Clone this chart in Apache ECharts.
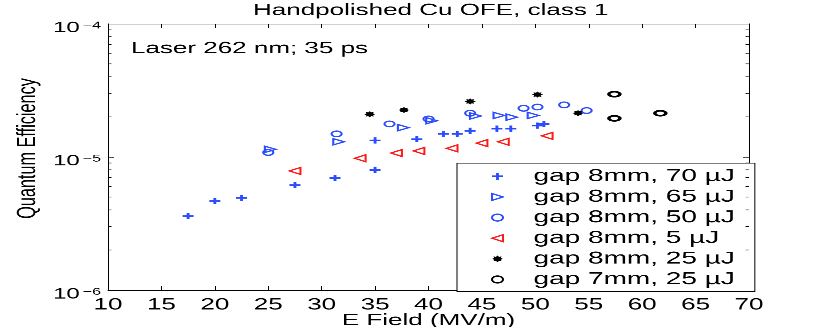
<!DOCTYPE html>
<html>
<head>
<meta charset="utf-8">
<script src="https://cdn.jsdelivr.net/npm/echarts@6/dist/echarts.min.js"></script>
<style>
  html, body { margin: 0; padding: 0; background: #fff; overflow: hidden; }
  /* the original figure is squashed vertically, so draw tall and compress */
  #chart { width: 830px; height: 523px; transform: scaleY(0.6252); transform-origin: 0 0; }
</style>
</head>
<body>
<div id="chart"></div>
<script>
// E field (MV/m) and quantum efficiency per measurement set
const field70 = [17.5, 20, 22.5, 27.5, 31.25, 35, 35, 38.9, 41.4, 42.7, 43.9, 46.4, 47.7, 50.2, 50.8];
const qe70 = [3.6e-6, 4.67e-6, 4.92e-6, 6.15e-6, 6.95e-6, 8.0e-6, 1.33e-5, 1.36e-5, 1.49e-5, 1.49e-5, 1.57e-5, 1.63e-5, 1.63e-5, 1.72e-5, 1.77e-5];

const field65 = [25.2, 31.6, 37.65, 40.3, 44.4, 46.6, 47.8, 49.8];
const qe65 = [1.14e-5, 1.30e-5, 1.66e-5, 1.87e-5, 2.03e-5, 2.05e-5, 1.99e-5, 2.05e-5];

const field50 = [25, 31.4, 36.35, 40, 43.9, 48.9, 50.2, 52.7, 54.8];
const qe50 = [1.08e-5, 1.49e-5, 1.77e-5, 1.93e-5, 2.13e-5, 2.32e-5, 2.37e-5, 2.46e-5, 2.23e-5];

const field5 = [27.5, 33.6, 37.0, 39.1, 42.2, 45.0, 47.0, 51.1];
const qe5 = [7.85e-6, 9.77e-6, 1.07e-5, 1.11e-5, 1.16e-5, 1.27e-5, 1.30e-5, 1.44e-5];

const field25 = [34.5, 37.7, 43.9, 50.2, 54.0];
const qe25 = [2.09e-5, 2.25e-5, 2.61e-5, 2.94e-5, 2.13e-5];

const field7mm = [57.4, 57.4, 61.7];
const qe7mm = [2.96e-5, 1.95e-5, 2.13e-5];

const seriesNames = ['gap 8mm, 70 µJ', 'gap 8mm, 65 µJ', 'gap 8mm, 50 µJ', 'gap 8mm, 5 µJ', 'gap 8mm, 25 µJ', 'gap 7mm, 25 µJ'];
const xMin = 10, xMax = 70, xStep = 5;
const yMin = 1e-6, yMax = 1e-4;
const minorMantissas = [2, 3, 4, 5, 6, 7, 8, 9];
const minorDecades = [-6, -5];

const BLUE = '#2b4cff';
const RED = '#ff1a1a';
const FONT = 'Liberation Sans, Arial, Helvetica, sans-serif';

const PLUS = 'path://M3.7,0H6.3V3.7H10V6.3H6.3V10H3.7V6.3H0V3.7H3.7Z';
const TRI_RIGHT = 'path://M0,0L10,5L0,10Z';
const TRI_LEFT = 'path://M10,0L0,5L10,10Z';
const STAR = 'path://M10,5L8.05,6.26L8.54,8.54L6.26,8.05L5,10L3.74,8.05L1.46,8.54L1.95,6.26L0,5L1.95,3.74L1.46,1.46L3.74,1.95L5,0L6.26,1.95L8.54,1.46L8.05,3.74Z';

function pairs(xs, ys) {
  return xs.map(function (x, i) { return [x, ys[i]]; });
}

const minorTicks = [];
minorDecades.forEach(function (d) {
  minorMantissas.forEach(function (m) { minorTicks.push([xMin, m * Math.pow(10, d)]); });
});

const chart = echarts.init(document.getElementById('chart'), null, { renderer: 'canvas', devicePixelRatio: 2 });

const option = {
  backgroundColor: '#ffffff',
  animation: false,
  textStyle: { fontFamily: FONT },
  title: [
    {
      text: 'Handpolished Cu OFE, class 1',
      left: 253, top: 4, padding: 0,
      textStyle: { fontSize: 26, fontWeight: 'normal', color: '#000', fontFamily: FONT }
    },
    {
      text: 'Laser 262 nm; 35 ps',
      left: 131, top: 65, padding: 0,
      textStyle: { fontSize: 26, fontWeight: 'normal', color: '#000', fontFamily: FONT }
    }
  ],
  grid: { left: 108, right: 81, top: 38, bottom: 59, containLabel: false, outerBoundsMode: 'none' },
  legend: {
    orient: 'vertical',
    left: 457, top: 261,
    padding: [7, 20, 5, 34],
    itemGap: 5,
    itemWidth: 62, itemHeight: 11,
    backgroundColor: '#fff',
    borderColor: '#000', borderWidth: 1,
    data: seriesNames,
    textStyle: { fontSize: 28, color: '#000', fontFamily: FONT, lineHeight: 26 }
  },
  xAxis: [
    {
      type: 'value', min: xMin, max: xMax, interval: xStep, position: 'bottom',
      name: 'E Field (MV/m)', nameLocation: 'middle', nameGap: 36, nameMoveOverlap: false,
      nameTextStyle: { fontSize: 26, color: '#000', fontFamily: FONT },
      axisLine: { show: true, onZero: false, lineStyle: { color: '#000', width: 1 } },
      axisTick: { show: true, inside: true, length: 7, lineStyle: { color: '#000' } },
      axisLabel: { fontSize: 26, color: '#000', margin: 11, fontFamily: FONT },
      splitLine: { show: false }
    },
    {
      type: 'value', min: xMin, max: xMax, interval: xStep, position: 'top',
      axisLine: { show: true, onZero: false, lineStyle: { color: '#000', width: 1 } },
      axisTick: { show: true, inside: true, length: 7, lineStyle: { color: '#000' } },
      axisLabel: { show: false },
      splitLine: { show: false }
    }
  ],
  yAxis: [
    {
      type: 'log', logBase: 10, min: yMin, max: yMax, position: 'left',
      name: 'Quantum Efficiency', nameLocation: 'middle', nameGap: 67, nameMoveOverlap: false,
      nameTextStyle: { fontSize: 26, color: '#000', fontFamily: FONT, padding: [0, 0, 0, 27] },
      axisLine: { show: true, onZero: false, lineStyle: { color: '#000', width: 1 } },
      axisTick: { show: true, inside: true, length: 6, lineStyle: { color: '#000' } },
      axisLabel: {
        margin: 7,
        padding: [14, 0, 0, 0],
        formatter: function (v) {
          const e = Math.round(Math.log10(v));
          return '{b|10}{s|\u2212' + Math.abs(e) + '}';
        },
        rich: {
          b: { fontSize: 24, color: '#000', fontFamily: FONT, lineHeight: 24, padding: [9, 0, 9, 0] },
          s: { fontSize: 16, color: '#000', fontFamily: FONT, lineHeight: 16, verticalAlign: 'top', padding: [0, 0, 0, 3] }
        }
      },
      splitLine: { show: false }
    },
    {
      type: 'log', logBase: 10, min: yMin, max: yMax, position: 'right',
      axisLine: { show: true, onZero: false, lineStyle: { color: '#000', width: 1 } },
      axisTick: { show: true, inside: true, length: 6, lineStyle: { color: '#000' } },
      axisLabel: { show: false },
      splitLine: { show: false }
    }
  ],
  series: [
    {
      name: seriesNames[0], type: 'scatter', data: pairs(field70, qe70),
      symbol: PLUS, symbolSize: [11, 10],
      itemStyle: { color: BLUE, opacity: 1 }
    },
    {
      name: seriesNames[1], type: 'scatter', data: pairs(field65, qe65),
      symbol: TRI_RIGHT, symbolSize: [11, 10],
      itemStyle: { color: 'rgba(0,0,0,0)', borderColor: BLUE, borderWidth: 2, opacity: 1 }
    },
    {
      name: seriesNames[2], type: 'scatter', data: pairs(field50, qe50),
      symbol: 'circle', symbolSize: [10, 9],
      itemStyle: { color: 'rgba(0,0,0,0)', borderColor: BLUE, borderWidth: 2, opacity: 1 }
    },
    {
      name: seriesNames[3], type: 'scatter', data: pairs(field5, qe5),
      symbol: TRI_LEFT, symbolSize: [11, 11],
      itemStyle: { color: 'rgba(0,0,0,0)', borderColor: RED, borderWidth: 2, opacity: 1 }
    },
    {
      name: seriesNames[4], type: 'scatter', data: pairs(field25, qe25),
      symbol: STAR, symbolSize: [11, 10],
      itemStyle: { color: '#000', opacity: 1 }
    },
    {
      name: seriesNames[5], type: 'scatter', data: pairs(field7mm, qe7mm),
      symbol: 'circle', symbolSize: [11, 8],
      itemStyle: { color: 'rgba(0,0,0,0)', borderColor: '#000', borderWidth: 3, opacity: 1 }
    },
    {
      // log minor ticks on the left and right frame edges
      name: 'minor ticks', type: 'custom', silent: true, clip: false, z: 5,
      data: minorTicks,
      renderItem: function (params, api) {
        const v = api.value(1);
        const l = api.coord([xMin, v]);
        const r = api.coord([xMax, v]);
        return {
          type: 'group',
          children: [
            { type: 'line', shape: { x1: l[0], y1: l[1], x2: l[0] + 3.5, y2: l[1] }, style: { stroke: '#000', lineWidth: 1 } },
            { type: 'line', shape: { x1: r[0] - 3.5, y1: r[1], x2: r[0], y2: r[1] }, style: { stroke: '#000', lineWidth: 1 } }
          ]
        };
      }
    }
  ]
};

chart.setOption(option);
</script>
</body>
</html>
